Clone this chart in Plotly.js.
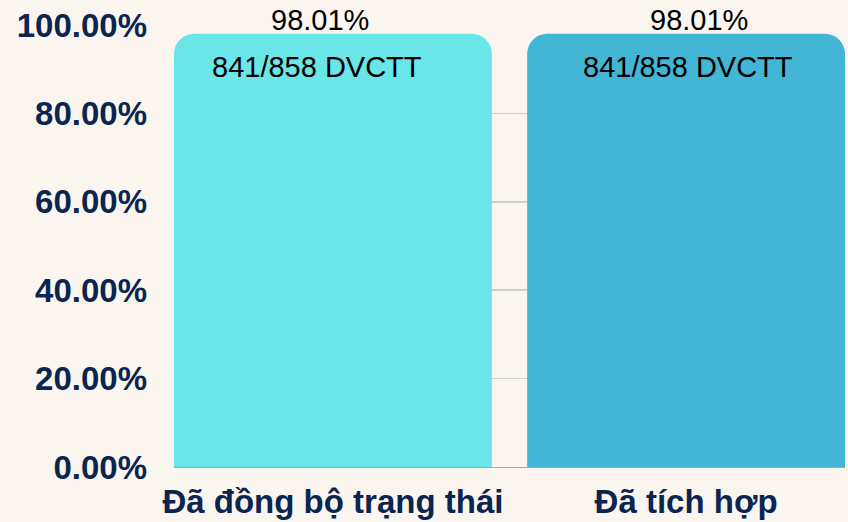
<!DOCTYPE html>
<html>
<head>
<meta charset="utf-8">
<script src="https://cdn.plot.ly/plotly-3.0.1.min.js"></script>
<style>html,body{margin:0;padding:0;background:#faf5ef;}</style>
</head>
<body>
<div id="chart" style="width:848px;height:522px;"></div>
<script>
const categories = ["Đã đồng bộ trạng thái", "Đã tích hợp"];
const values = [0.9801, 0.9801];
const countLabels = ["841/858 DVCTT", "841/858 DVCTT"];
const pctLabels = ["98.01%", "98.01%"];

const barColors = ["#6ae5e8", "#42b6d4"];
const pctShift = [-13, 13];
const countShift = [-16, 2];
const ink = "#0a2550";

const annotations = [];
categories.forEach((c, i) => {
  annotations.push({
    x: c, y: values[i], xref: "x", yref: "y",
    text: pctLabels[i], showarrow: false,
    xanchor: "center", yanchor: "middle",
    xshift: pctShift[i], yshift: 14,
    font: {family: "Liberation Sans, Arial, sans-serif", size: 29, color: "#000000"}
  });
  annotations.push({
    x: c, y: values[i], xref: "x", yref: "y",
    text: countLabels[i], showarrow: false,
    xanchor: "center", yanchor: "middle",
    xshift: countShift[i], yshift: -33,
    font: {family: "Liberation Sans, Arial, sans-serif", size: 29, color: "#000000"}
  });
});

const trace = {
  type: "bar",
  x: categories,
  y: values,
  marker: {color: barColors, cornerradius: 20, line: {width: 0}},
  hoverinfo: "none"
};

const layout = {
  width: 848, height: 522,
  margin: {l: 174, r: 3, t: 25, b: 55},
  paper_bgcolor: "#faf5ef",
  plot_bgcolor: "#faf5ef",
  showlegend: false,
  bargap: 0.1,
  xaxis: {
    type: "category",
    range: [-0.45, 1.45],
    showgrid: false,
    showline: false,
    ticks: "",
    tickfont: {family: "Liberation Sans, Arial, sans-serif", size: 33, color: ink, weight: "bold"},
    ticklabelstandoff: 12
  },
  yaxis: {
    range: [0, 1],
    dtick: 0.2,
    tick0: 0,
    tickformat: ".2%",
    showgrid: true,
    gridcolor: "#d0d0d0",
    gridwidth: 1.5,
    zeroline: true,
    zerolinecolor: "#a8a8a8",
    zerolinewidth: 1,
    showline: false,
    ticks: "",
    ticklabelstandoff: 26,
    tickfont: {family: "Liberation Sans, Arial, sans-serif", size: 33, color: ink, weight: "bold"}
  },
  annotations: annotations
};

Plotly.newPlot("chart", [trace], layout, {staticPlot: true, displayModeBar: false});
</script>
</body>
</html>
